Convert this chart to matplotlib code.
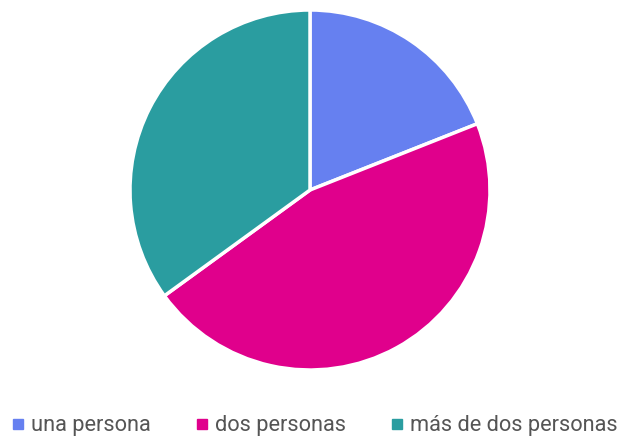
import matplotlib
matplotlib.use("Agg")
import matplotlib.pyplot as plt
from matplotlib.lines import Line2D

categories = ["una persona", "dos personas", "más de dos personas"]
values = [19, 46, 35]
colors = ["#6680F0", "#E0008C", "#2A9DA0"]

plt.rcParams['font.family'] = ['Roboto', 'DejaVu Sans']

fig = plt.figure(figsize=(6.22, 4.37), dpi=100)
ax = fig.add_axes([130/622, 1 - 370/437, 360/622, 360/437])
ax.pie(values, colors=colors, startangle=90, counterclock=False,
       wedgeprops=dict(edgecolor="white", linewidth=2.5))
ax.set_xlim(-1, 1)
ax.set_ylim(-1, 1)
ax.set_aspect("equal")

handles = [Line2D([], [], marker="s", linestyle="none", markersize=6.5,
                  markerfacecolor=c, markeredgecolor=c) for c in colors]
fig.legend(handles, categories, loc="center", bbox_to_anchor=(0.505, 1 - 426/437),
           ncol=3, frameon=False, fontsize=15.7, labelcolor="#555555",
           handletextpad=0.25, columnspacing=2.0, handlelength=0.7)

fig.savefig("out.png", dpi=100)
